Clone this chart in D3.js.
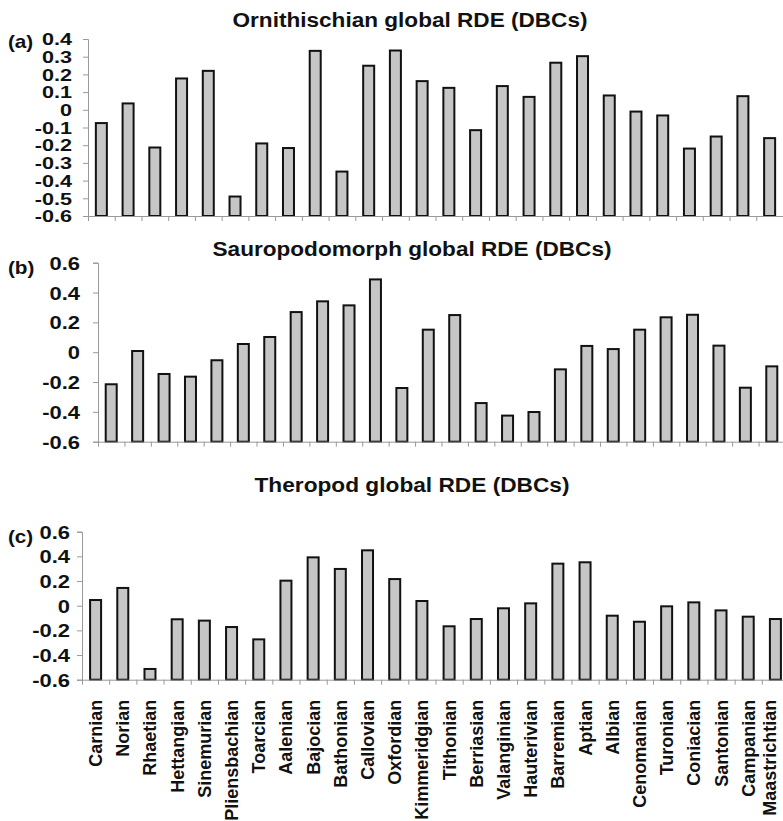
<!DOCTYPE html>
<html>
<head>
<meta charset="utf-8">
<script src="https://cdn.jsdelivr.net/npm/d3@7"></script>
<style>
  html, body { margin: 0; padding: 0; background: #fff; }
  svg { display: block; }
  text { font-family: "Liberation Sans", Arial, Helvetica, sans-serif; font-weight: bold; fill: #111; }
</style>
</head>
<body>
<svg id="chart" width="783" height="821"></svg>
<script>
// ---- Data ----
const stages = ["Carnian","Norian","Rhaetian","Hettangian","Sinemurian","Pliensbachian","Toarcian",
  "Aalenian","Bajocian","Bathonian","Callovian","Oxfordian","Kimmeridgian","Tithonian","Berriasian",
  "Valanginian","Hauterivian","Barremian","Aptian","Albian","Cenomanian","Turonian","Coniacian",
  "Santonian","Campanian","Maastrichtian"];

const ornithischian = [-0.075, 0.036, -0.213, 0.177, 0.22, -0.49, -0.19, -0.216, 0.333, -0.349, 0.249,
  0.335, 0.162, 0.124, -0.115, 0.134, 0.073, 0.266, 0.303, 0.081, -0.01, -0.032, -0.219, -0.151, 0.077, -0.16];

const sauropodomorph = [-0.215, 0.008, -0.146, -0.164, -0.054, 0.055, 0.102, 0.269, 0.341, 0.314, 0.488,
  -0.24, 0.151, 0.249, -0.341, -0.425, -0.401, -0.115, 0.042, 0.021, 0.151, 0.234, 0.251, 0.044, -0.238, -0.095];

const theropod = [0.046, 0.144, -0.513, -0.11, -0.121, -0.173, -0.273, 0.203, 0.392, 0.298, 0.449,
  0.216, 0.038, -0.167, -0.108, -0.021, 0.019, 0.341, 0.352, -0.081, -0.13, -0.005, 0.027, -0.038, -0.089, -0.108];

const ticksA = [0.4, 0.3, 0.2, 0.1, 0, -0.1, -0.2, -0.3, -0.4, -0.5, -0.6];
const ticksBC = [0.6, 0.4, 0.2, 0, -0.2, -0.4, -0.6];

const titles = ["Ornithischian global RDE (DBCs)", "Sauropodomorph global RDE (DBCs)", "Theropod global RDE (DBCs)"];
const panelLabels = ["(a)", "(b)", "(c)"];

// ---- Layout ----
const panels = [
  { values: ornithischian, ticks: ticksA, domain: [-0.6, 0.4], x0: 88, x1: 783, yTop: 39, yBot: 216,
    titleY: 27, titleX: 410, titleLen: 355, label: panelLabels[0], labelY: 48, tickFont: 16, tickScale: 1.35, tickGap: 16, showX: false },
  { values: sauropodomorph, ticks: ticksBC, domain: [-0.6, 0.6], x0: 98, x1: 785, yTop: 262.7, yBot: 441.7,
    titleY: 256, titleX: 412, titleLen: 399, label: panelLabels[1], labelY: 274, tickFont: 18, tickScale: 1.22, tickGap: 18, showX: false },
  { values: theropod, ticks: ticksBC, domain: [-0.6, 0.6], x0: 82, x1: 789, yTop: 531.7, yBot: 679.7,
    titleY: 492, titleX: 412, titleLen: 315, label: panelLabels[2], labelY: 543, tickFont: 18, tickScale: 1.22, tickGap: 12, showX: true }
];

const svg = d3.select("#chart");
const fmt = d => Math.abs(d) < 1e-9 ? "0" : d3.format(".1f")(d).replace("−", "-");

panels.forEach((p, i) => {
  const g = svg.append("g");
  const x = d3.scaleBand().domain(stages).range([p.x0, p.x1]).paddingInner(0).paddingOuter(0);
  const xl = d3.scaleLinear().domain([0, stages.length]).range([p.x0, p.x1]);
  const y = d3.scaleLinear().domain(p.domain).range([p.yBot, p.yTop]);

  // title
  g.append("text")
    .attr("x", p.titleX).attr("y", p.titleY)
    .attr("text-anchor", "middle")
    .attr("font-size", 20)
    .attr("textLength", p.titleLen)
    .attr("lengthAdjust", "spacingAndGlyphs")
    .text(titles[i]);

  // panel label
  g.append("text")
    .attr("x", 8).attr("y", p.labelY)
    .attr("font-size", 18)
    .attr("transform", `translate(8,0) scale(1.15,1) translate(-8,0)`)
    .text(p.label);

  // bars
  const bw = x.bandwidth();
  const barW = 11;
  g.selectAll("rect.bar").data(p.values).join("rect")
    .attr("class", "bar")
    .attr("x", (d, j) => x(stages[j]) + (bw - barW) / 2)
    .attr("y", d => y(d))
    .attr("width", barW)
    .attr("height", d => y(p.domain[0]) - y(d))
    .attr("fill", "#c6c6c6")
    .attr("stroke", "#111")
    .attr("stroke-width", 2);

  // y axis
  const ya = g.append("g").attr("transform", `translate(${p.x0},0)`)
    .call(d3.axisLeft(y).tickValues(p.ticks).tickFormat(fmt).tickSize(5).tickPadding(0));
  ya.select(".domain").attr("stroke", "#999").attr("stroke-width", 1);
  ya.selectAll(".tick line").attr("stroke", "#999");
  ya.selectAll(".tick text")
    .attr("font-size", p.tickFont)
    .attr("font-family", "Liberation Sans, Arial, sans-serif")
    .attr("font-weight", "bold")
    .attr("fill", "#111")
    .attr("x", -p.tickGap / p.tickScale)
    .attr("dy", "0.36em")
    .attr("transform", `scale(${p.tickScale},1)`);

  // x axis (boundary ticks)
  const xa = g.append("g").attr("transform", `translate(0,${p.yBot})`)
    .call(d3.axisBottom(xl).tickValues(d3.range(0, stages.length + 1)).tickFormat("").tickSize(5).tickSizeOuter(0));
  xa.select(".domain").attr("stroke", "#999").attr("stroke-width", 1);
  xa.selectAll(".tick line").attr("stroke", "#999");

  if (p.showX) {
    g.selectAll("text.xlab").data(stages).join("text")
      .attr("class", "xlab")
      .attr("transform", d => `translate(${Math.min(x(d) + bw / 2, 770)},${p.yBot + 20}) rotate(-90)`)
      .attr("text-anchor", "end")
      .attr("dy", "0.36em")
      .attr("font-size", 18)
      .text(d => d);
  }
});
</script>
</body>
</html>
